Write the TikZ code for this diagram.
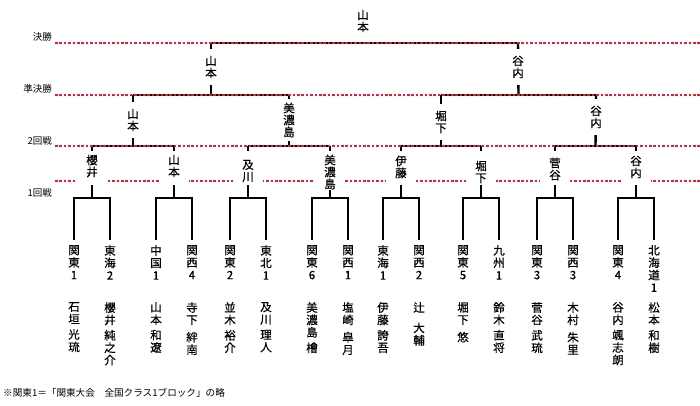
\documentclass[tikz,border=0pt]{standalone}
\usepackage{fontspec}
\setmainfont{Noto Sans CJK JP}
\newfontfamily\jpheavy{Noto Sans CJK JP}[FakeBold=0.6]
\usetikzlibrary{calc}
\definecolor{guide}{RGB}{228,30,50}
\begin{document}
\begin{tikzpicture}[x=1pt,y=-1pt,
  br/.style={line width=2.4pt},
  legline/.style={line width=2.9pt},
  guideline/.style={draw=guide, line width=1.2pt, dash pattern=on 2.6pt off 1.8pt},
  vt/.style={font=\jpheavy\fontsize{11.5}{12}\selectfont, align=center, inner xsep=1pt, inner ysep=7pt, fill=white},
  reg/.style={font=\jpheavy\fontsize{11.5}{12.4}\selectfont, align=center, inner sep=0pt, anchor=north},
  gapbox/.style={fill=white, minimum width=30pt, minimum height=34pt, inner sep=0pt},
  rowlab/.style={font=\fontsize{9.5}{10}\selectfont, anchor=east, inner sep=0pt}]

\useasboundingbox (0,0) rectangle (700,405);

% ---------- coordinates ----------
\foreach \i/\c in {1/92,2/174,3/248,4/330,5/401,6/481,7/555,8/636}{
  \coordinate (j\i) at (\c,198);
  \coordinate (q\i) at (\c,146);
  \coordinate (e\i a) at (\c-18,240);
  \coordinate (e\i b) at (\c+18,240);
}
\coordinate (s1) at (133,95);
\coordinate (s2) at (289,95);
\coordinate (s3) at (441,95);
\coordinate (s4) at (596,95);
\coordinate (f1) at (211,43);
\coordinate (f2) at (518,43);

% ---------- first round ----------
\foreach \i in {1,...,8}{
  \draw[legline] (e\i a) |- (j\i) -| (e\i b);
  \draw[legline] (j\i) -- (q\i);
}
% ---------- second round ----------
\draw[br] (q1) -- (q2);  \draw[br] (s1) -- ($(q1)!0.5!(q2)$);
\draw[br] (q3) -- (q4);  \draw[br] (s2) -- ($(q3)!0.5!(q4)$);
\draw[br] (q5) -- (q6);  \draw[br] (s3) -- ($(q5)!0.5!(q6)$);
\draw[br] (q7) -- (q8);  \draw[br] (s4) -- ($(q7)!0.5!(q8)$);
% ---------- semifinals ----------
\draw[br] (s1) -- (s2);  \draw[br] (f1) -- ($(s1)!0.5!(s2)$);
\draw[br] (s3) -- (s4);  \draw[br] (f2) -- ($(s3)!0.5!(s4)$);
% ---------- final ----------
\draw[br] (f1) -- (f2);

% ---------- guide lines ----------
\coordinate (gl1) at (55,43);  \coordinate (gr1) at (700,43);
\coordinate (gl2) at (55,95);  \coordinate (gr2) at (700,95);
\coordinate (gl3) at (55,146); \coordinate (gr3) at (700,146);
\coordinate (gl4) at (55,181); \coordinate (gr4) at (700,181);
\draw[guideline] (gl1) -- (gr1);
\draw[guideline] (gl2) -- (gr2);
\draw[guideline] (gl3) -- (gr3);
\draw[guideline] (gl4) -- (gr4);

\node[rowlab] (lab1) at (52,37) {決勝};
\node[rowlab] (lab2) at (52,89) {準決勝};
\node[rowlab] (lab3) at (52,141) {2回戦};
\node[rowlab] (lab4) at (52,193) {1回戦};

% ---------- gaps around second-round winners ----------
\foreach \i/\c in {1/92,2/174,3/248,4/330,5/401,6/481,7/555,8/636}{
  \node[gapbox] (g\i) at (\c,168) {};
}

% ---------- winners ----------
\node[font=\jpheavy\fontsize{11.5}{12}\selectfont, align=center, inner sep=0pt] (champ) at (363,21) {山\\本};
\node[vt] (w1) at (211,67) {山\\本};
\node[vt] (w2) at (518,67) {谷\\内};
\node[vt] (v1) at (133,120) {山\\本};
\node[vt, inner ysep=4pt] (v2) at (289,120) {美\\濃\\島};
\node[vt] (v3) at (441,122) {堀\\下};
\node[vt] (v4) at (596,117) {谷\\内};
\node[vt, inner ysep=1pt] (u1) at (92,166) {櫻\\井};
\node[vt, inner ysep=1pt] (u2) at (174,166) {山\\本};
\node[vt, inner ysep=1pt] (u3) at (248,171) {及\\川};
\node[vt, inner ysep=1pt] (u4) at (330,172) {美\\濃\\島};
\node[vt, inner ysep=1pt] (u5) at (401,167) {伊\\藤};
\node[vt, inner ysep=1pt] (u6) at (481,172) {堀\\下};
\node[vt, inner ysep=1pt] (u7) at (555,169) {菅\\谷};
\node[vt, inner ysep=1pt] (u8) at (636,167) {谷\\内};

% ---------- entrants: region ----------
\node[reg] (r1a) at (74,245) {関\\東\\1};
\node[reg] (r1b) at (110,245) {東\\海\\2};
\node[reg] (r2a) at (156,245) {中\\国\\1};
\node[reg] (r2b) at (192,245) {関\\西\\4};
\node[reg] (r3a) at (230,245) {関\\東\\2};
\node[reg] (r3b) at (266,245) {東\\北\\1};
\node[reg] (r4a) at (312,245) {関\\東\\6};
\node[reg] (r4b) at (348,245) {関\\西\\1};
\node[reg] (r5a) at (383,245) {東\\海\\1};
\node[reg] (r5b) at (419,245) {関\\西\\2};
\node[reg] (r6a) at (463,245) {関\\東\\5};
\node[reg] (r6b) at (499,245) {九\\州\\1};
\node[reg] (r7a) at (537,245) {関\\東\\3};
\node[reg] (r7b) at (573,245) {関\\西\\3};
\node[reg] (r8a) at (618,245) {関\\東\\4};
\node[reg] (r8b) at (654,245) {北\\海\\道\\1};

% ---------- entrants: names ----------
\node[reg] (n1a) at (74,302) {石\\垣\\[3pt]光\\琉};
\node[reg] (n1b) at (110,302) {櫻\\井\\[3pt]純\\之\\介};
\node[reg] (n2a) at (156,302) {山\\本\\[3pt]和\\遼};
\node[reg] (n2b) at (192,302) {寺\\下\\[5pt]絆\\南};
\node[reg] (n3a) at (230,302) {並\\木\\[3pt]裕\\介};
\node[reg] (n3b) at (266,302) {及\\川\\[3pt]理\\人};
\node[reg] (n4a) at (312,302) {美\\濃\\島\\[3pt]檜};
\node[reg] (n4b) at (348,302) {塩\\崎\\[5pt]皐\\月};
\node[reg] (n5a) at (383,302) {伊\\藤\\[3pt]誇\\吾};
\node[reg] (n5b) at (419,302) {辻\\[8pt]大\\輔};
\node[reg] (n6a) at (463,302) {堀\\下\\[5pt]悠};
\node[reg] (n6b) at (499,302) {鈴\\木\\[3pt]直\\将};
\node[reg] (n7a) at (537,302) {菅\\谷\\[3pt]武\\琉};
\node[reg] (n7b) at (573,302) {木\\村\\[5pt]朱\\里};
\node[reg] (n8a) at (618,302) {谷\\内\\[3pt]颯\\志\\朗};
\node[reg] (n8b) at (654,302) {松\\本\\[3pt]和\\樹};

% ---------- footnote ----------
\node[font=\fontsize{9.6}{10}\selectfont, anchor=west, inner sep=0pt] (note) at (3,393) {※関東1＝「関東大会　全国クラス1ブロック」の略};
\end{tikzpicture}
\end{document}
